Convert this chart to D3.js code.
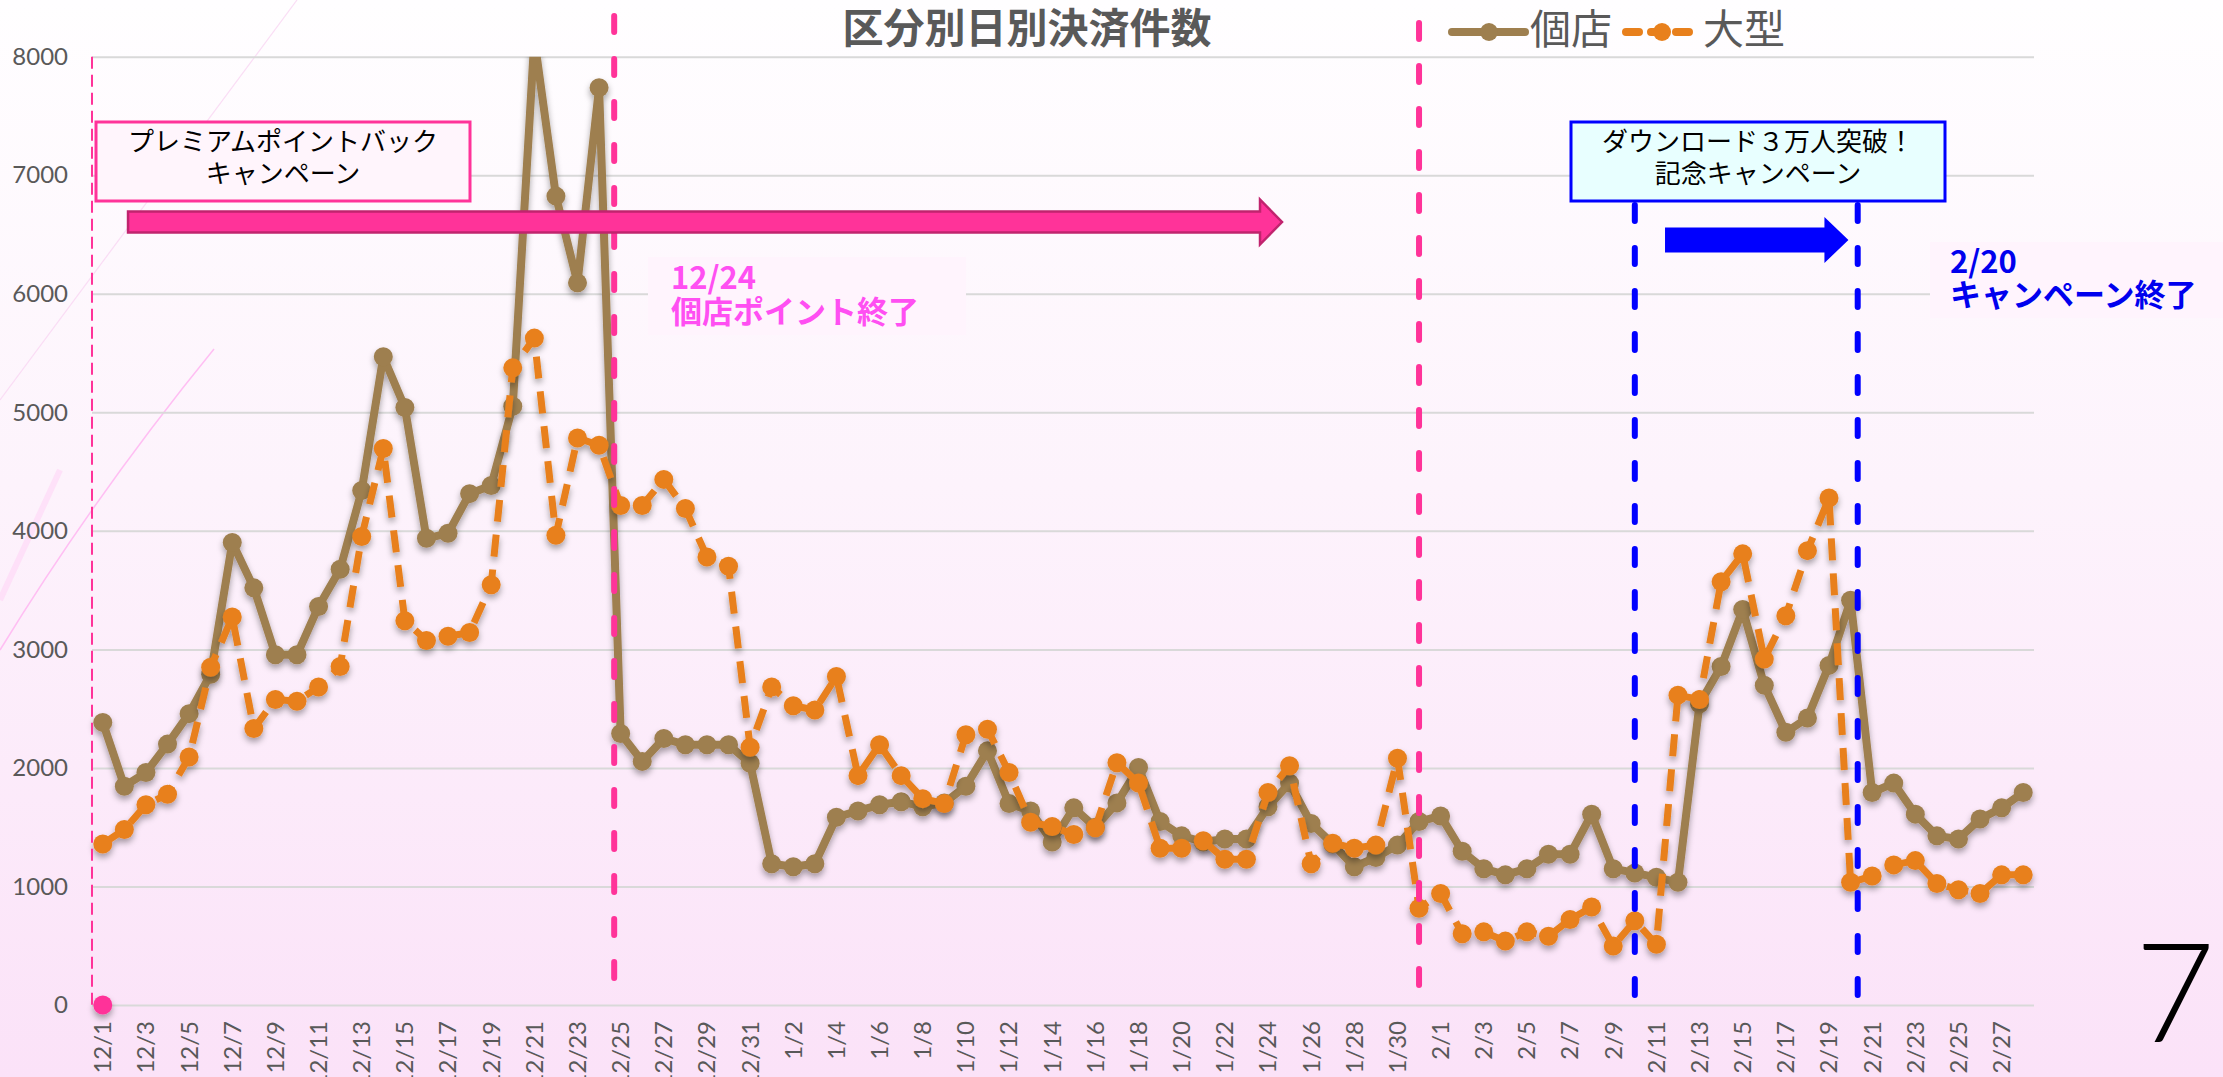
<!DOCTYPE html>
<html><head><meta charset="utf-8">
<script src="https://cdn.jsdelivr.net/npm/d3@7/dist/d3.min.js"></script>
<style>
html,body{margin:0;padding:0;overflow:hidden;background:#fff}
svg{display:block}
</style></head><body>
<svg id="chart" width="2223" height="1077"></svg>
<script>
// ---------- data ----------
const categories = [
 "12/1","12/2","12/3","12/4","12/5","12/6","12/7","12/8","12/9","12/10",
 "12/11","12/12","12/13","12/14","12/15","12/16","12/17","12/18","12/19","12/20",
 "12/21","12/22","12/23","12/24","12/25","12/26","12/27","12/28","12/29","12/30","12/31",
 "1/1","1/2","1/3","1/4","1/5","1/6","1/7","1/8","1/9","1/10",
 "1/11","1/12","1/13","1/14","1/15","1/16","1/17","1/18","1/19","1/20",
 "1/21","1/22","1/23","1/24","1/25","1/26","1/27","1/28","1/29","1/30","1/31",
 "2/1","2/2","2/3","2/4","2/5","2/6","2/7","2/8","2/9","2/10",
 "2/11","2/12","2/13","2/14","2/15","2/16","2/17","2/18","2/19","2/20",
 "2/21","2/22","2/23","2/24","2/25","2/26","2/27","2/28"
];
const xTickLabels = [
 "12/1","12/3","12/5","12/7","12/9","12/11","12/13","12/15","12/17","12/19","12/21","12/23","12/25","12/27","12/29","12/31",
 "1/2","1/4","1/6","1/8","1/10","1/12","1/14","1/16","1/18","1/20","1/22","1/24","1/26","1/28","1/30",
 "2/1","2/3","2/5","2/7","2/9","2/11","2/13","2/15","2/17","2/19","2/21","2/23","2/25","2/27"
];
const yTicks = [0,1000,2000,3000,4000,5000,6000,7000,8000];
const seriesNames = ["個店","大型"];
// 個店
const kotenValues = [
 2384,1846,1961,2201,2458,2790,3901,3519,2954,2954,
 3362,3676,4340,5469,5041,3937,3979,4314,4382,5051,
 8150,6824,6092,7739,2290,2055,2248,2196,2196,2196,2039,
 1192,1166,1192,1584,1637,1689,1715,1673,1705,1846,
 2144,1699,1637,1375,1663,1500,1705,2003,1548,1427,
 1375,1401,1401,1673,1872,1532,1359,1166,1244,1349,1548,
 1595,1297,1150,1098,1150,1271,1271,1610,1150,1114,
 1077,1035,2541,2855,3336,2698,2301,2421,2865,3414,
 1793,1872,1610,1427,1401,1569,1663,1793
];
// 大型
const ogataValues = [
 1359,1480,1689,1778,2092,2850,3273,2332,2578,2562,
 2682,2855,3953,4695,3242,3075,3111,3142,3545,5375,
 5626,3963,4784,4722,4214,4214,4434,4188,3780,3702,2175,
 2682,2525,2489,2771,1935,2196,1935,1741,1699,2280,
 2327,1961,1542,1506,1438,1495,2044,1872,1323,1323,
 1386,1229,1229,1793,2018,1192,1365,1323,1349,2081,816,
 941,601,617,539,617,580,722,826,497,711,
 512,2614,2578,3571,3806,2918,3284,3833,4277,1035,
 1088,1182,1218,1025,973,941,1098,1098
];
const titleText = "区分別日別決済件数";
const pageNumber = "7";

// ---------- layout ----------
const W = 2223, H = 1077;
const plot = {left: 92, right: 2034, top: 56.7, bottom: 1005};
const brown = "#9E7F4F", orange = "#E8801C", pink = "#FF3399", blue = "#0000FF", grey = "#595959";
const latin = "Lato, 'Noto Sans CJK JP', sans-serif";
const jp = "'Noto Sans CJK JP', 'Noto Sans', sans-serif";

const svg = d3.select("#chart");
const defs = svg.append("defs");

const bg = defs.append("linearGradient").attr("id","bg").attr("x1",0).attr("y1",0).attr("x2",0).attr("y2",1);
bg.append("stop").attr("offset","0%").attr("stop-color","#FFFEFF");
bg.append("stop").attr("offset","45%").attr("stop-color","#FDF3FC");
bg.append("stop").attr("offset","100%").attr("stop-color","#FBE2F8");

const sh = defs.append("filter").attr("id","shadow").attr("filterUnits","userSpaceOnUse")
  .attr("x",0).attr("y",0).attr("width",W).attr("height",H);
sh.append("feDropShadow").attr("dx",0).attr("dy",4).attr("stdDeviation",3)
  .attr("flood-color","#000").attr("flood-opacity",0.35);

defs.append("clipPath").attr("id","plotclip").append("rect")
  .attr("x",0).attr("y",plot.top).attr("width",W).attr("height",H-plot.top);

svg.append("rect").attr("width",W).attr("height",H).attr("fill","url(#bg)");

// decorative faint streaks
const deco = svg.append("g").attr("fill","none");
deco.append("path").attr("d","M0,400 L297,0").attr("stroke","#F9D4F3").attr("stroke-width",1.2).attr("opacity",0.8);
deco.append("path").attr("d","M0,650 Q95,495 214,349").attr("stroke","#FFB8F2").attr("stroke-width",1.5).attr("opacity",0.9);
deco.append("path").attr("d","M0,600 L60,470").attr("stroke","#FFD0F6").attr("stroke-width",6).attr("opacity",0.5);

// scales
const x = d3.scaleBand().domain(categories).range([plot.left, plot.right]).padding(0);
const step = x.bandwidth();
const xc = d => x(d) + step/2;
const y = d3.scaleLinear().domain([0, 8000]).range([plot.bottom, plot.top]);

// y axis + grid
const yAxis = svg.append("g").attr("transform",`translate(${plot.left},0)`)
  .call(d3.axisLeft(y).tickValues(yTicks).tickSize(-(plot.right-plot.left)).tickPadding(24).tickFormat(d3.format("d")));
yAxis.select(".domain").remove();
yAxis.selectAll("line").attr("stroke","#D9D9D9").attr("stroke-width",2);
yAxis.selectAll("text").attr("fill",grey).style("font-family",latin).style("font-size","24px");

// x axis labels
const xAxis = svg.append("g").attr("transform",`translate(0,${plot.bottom})`)
  .call(d3.axisBottom(x).tickValues(xTickLabels).tickSize(0).tickPadding(0));
xAxis.select(".domain").remove();
xAxis.selectAll("text")
  .attr("transform","rotate(-90)").attr("x",-16).attr("y",0).attr("dy","0.35em")
  .style("text-anchor","end").attr("fill",grey).style("font-family",latin).style("font-size","24px");

// light label backgrounds covering grid
svg.append("rect").attr("x",648).attr("y",257).attr("width",318).attr("height",78).attr("fill","#FFF4FD");
svg.append("rect").attr("x",1930).attr("y",242).attr("width",293).attr("height",76).attr("fill","#FFF4FD");

// series
const line = d3.line().x((d,i)=>xc(categories[i])).y(d=>y(d));
const plotG = svg.append("g").attr("clip-path","url(#plotclip)");

const g1 = plotG.append("g").attr("filter","url(#shadow)");
g1.append("path").datum(kotenValues).attr("d",line).attr("fill","none")
  .attr("stroke",brown).attr("stroke-width",8).attr("stroke-linejoin","round");
g1.selectAll("circle").data(kotenValues).join("circle")
  .attr("cx",(d,i)=>xc(categories[i])).attr("cy",d=>y(d)).attr("r",9.5).attr("fill",brown);

const g2 = plotG.append("g").attr("filter","url(#shadow)");
g2.append("path").datum(ogataValues).attr("d",line).attr("fill","none")
  .attr("stroke",orange).attr("stroke-width",7).attr("stroke-dasharray","22 13").attr("stroke-linejoin","round");
g2.selectAll("circle").data(ogataValues).join("circle")
  .attr("cx",(d,i)=>xc(categories[i])).attr("cy",d=>y(d)).attr("r",9.5).attr("fill",orange);

// pink dot at origin
svg.append("circle").attr("cx",xc(categories[0])).attr("cy",y(0)).attr("r",9.5)
  .attr("fill",pink).attr("filter","url(#shadow)");

// vertical markers
svg.append("line").attr("x1",x(categories[0])).attr("x2",x(categories[0]))
  .attr("y1",plot.top).attr("y2",plot.bottom)
  .attr("stroke",pink).attr("stroke-width",2).attr("stroke-dasharray","12 6");
function vline(xpos, y1, y2, color){
  svg.append("line").attr("x1",xpos).attr("x2",xpos).attr("y1",y1).attr("y2",y2)
    .attr("stroke",color).attr("stroke-width",6).attr("stroke-dasharray","16 27").attr("stroke-linecap","round");
}
vline(xc("12/25") - 0.3*step, 16, 1005, pink);
vline(xc("1/31"), 23, 1005, pink);
vline(xc("2/10"), 205, 1015, blue);
vline(xc("2/20") + 0.33*step, 205, 1015, blue);

// arrows
function arrow(x0, x1, headLen, yc, shaftH, headH, fill, stroke){
  const p = [[x0,yc-shaftH/2],[x1-headLen,yc-shaftH/2],[x1-headLen,yc-headH/2],[x1,yc],
             [x1-headLen,yc+headH/2],[x1-headLen,yc+shaftH/2],[x0,yc+shaftH/2]];
  svg.append("path").attr("d","M"+p.join("L")+"Z").attr("fill",fill)
    .attr("stroke",stroke).attr("stroke-width",stroke==="none"?0:2.5);
}
arrow(xc("12/2")+0.17*step, xc("1/25")-0.35*step, 22, 222, 21, 45, pink, "#C0246E");
arrow(xc("2/11")+0.4*step, xc("2/20")-0.1*step, 24, 240, 25, 46, blue, "none");

// text boxes
svg.append("rect").attr("x",96).attr("y",122).attr("width",374).attr("height",79)
  .attr("fill","#FFF5FC").attr("stroke",pink).attr("stroke-width",3);
const t1 = svg.append("text").attr("text-anchor","middle").attr("fill","#000")
  .style("font-family",jp).style("font-size","26px");
t1.append("tspan").attr("x",283).attr("y",151).text("プレミアムポイントバック");
t1.append("tspan").attr("x",283).attr("y",183).text("キャンペーン");

svg.append("rect").attr("x",1571).attr("y",122).attr("width",374).attr("height",79)
  .attr("fill","#E8FFFF").attr("stroke",blue).attr("stroke-width",3);
const t2 = svg.append("text").attr("text-anchor","middle").attr("fill","#000")
  .style("font-family",jp).style("font-size","26px");
t2.append("tspan").attr("x",1758).attr("y",151).text("ダウンロード３万人突破！");
t2.append("tspan").attr("x",1758).attr("y",183).text("記念キャンペーン");

// callout texts
const c1 = svg.append("text").attr("fill","#FF4FF2").style("font-family",jp)
  .style("font-size","31px").style("font-weight","700");
c1.append("tspan").attr("x",671).attr("y",289).text("12/24");
c1.append("tspan").attr("x",671).attr("y",323).text("個店ポイント終了");

const c2 = svg.append("text").attr("fill","#0000EE").style("font-family",jp)
  .style("font-size","31px").style("font-weight","700");
c2.append("tspan").attr("x",1950).attr("y",273).text("2/20");
c2.append("tspan").attr("x",1950).attr("y",306).text("キャンペーン終了");

// title
svg.append("text").attr("x",1027).attr("y",43).attr("text-anchor","middle")
  .attr("fill",grey).style("font-family",jp).style("font-size","41px").style("font-weight","700")
  .text(titleText);

// legend
const lg = svg.append("g");
lg.append("line").attr("x1",1452).attr("x2",1525).attr("y1",32).attr("y2",32)
  .attr("stroke",brown).attr("stroke-width",8).attr("stroke-linecap","round");
lg.append("circle").attr("cx",1489).attr("cy",32).attr("r",9).attr("fill",brown);
lg.append("text").attr("x",1530).attr("y",44).attr("fill",grey)
  .style("font-family",jp).style("font-size","41px").text(seriesNames[0]);
lg.append("line").attr("x1",1626).attr("x2",1698).attr("y1",32).attr("y2",32)
  .attr("stroke",orange).attr("stroke-width",8).attr("stroke-dasharray","13 12").attr("stroke-linecap","round");
lg.append("circle").attr("cx",1662).attr("cy",32).attr("r",9).attr("fill",orange);
lg.append("text").attr("x",1703).attr("y",44).attr("fill",grey)
  .style("font-family",jp).style("font-size","41px").text(seriesNames[1]);

// page number
svg.append("text").attr("x",2175).attr("y",1042).attr("text-anchor","middle")
  .attr("fill","#000").style("font-family",latin).style("font-weight","300").style("font-size","138px")
  .text(pageNumber);
</script>
</body></html>
